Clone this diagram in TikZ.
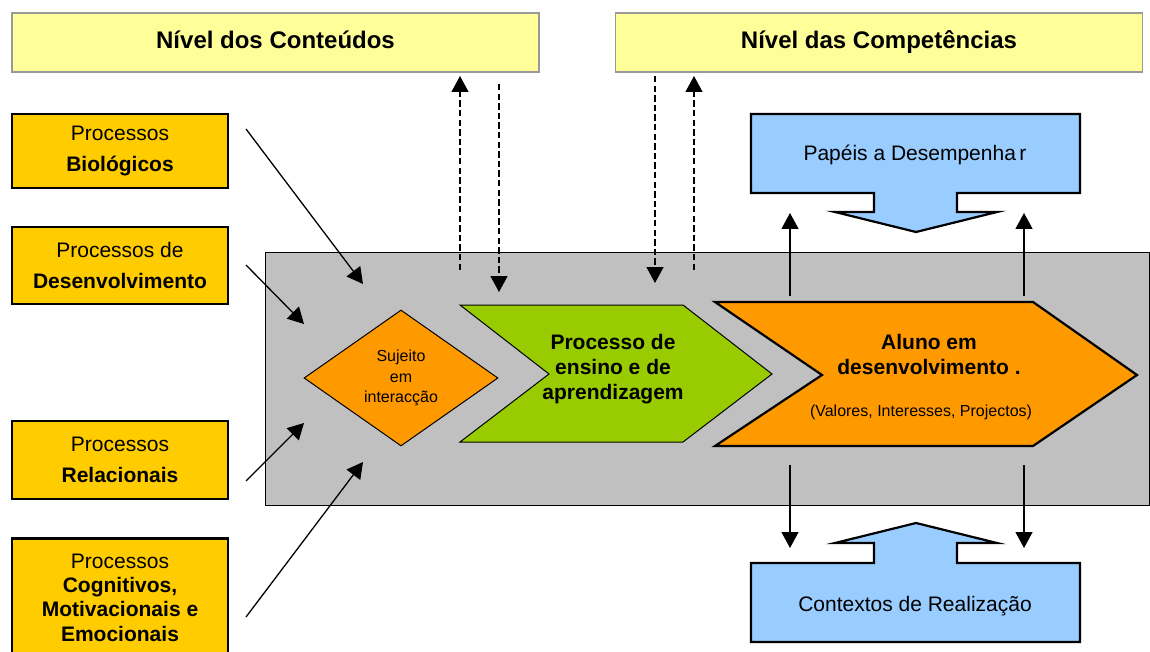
\documentclass[tikz,border=0pt]{standalone}
\usepackage{fontspec}
\setmainfont{Liberation Sans}
\usepackage{tikz}
\usetikzlibrary{arrows.meta,shapes.geometric}
\definecolor{nivelyellow}{RGB}{255,255,153}
\definecolor{procyellow}{RGB}{255,204,0}
\definecolor{fundogray}{RGB}{192,192,192}
\definecolor{alunoorange}{RGB}{255,153,0}
\definecolor{ensinogreen}{RGB}{153,204,0}
\definecolor{papelblue}{RGB}{153,204,255}

\begin{document}
\begin{tikzpicture}[x=0.5pt,y=-0.5pt,
  nivel/.style={draw=gray!80,line width=0.8pt,fill=nivelyellow,minimum width=263.5pt,minimum height=29.5pt,
    text height=9pt,text depth=2.5pt,font=\fontsize{12}{14}\selectfont\bfseries},
  processo/.style={draw,line width=1.2pt,fill=procyellow,minimum width=108pt,align=center,font=\fontsize{10.5}{15.5}\selectfont},
  seta/.style={-{Triangle[length=8pt,width=8.5pt]},line width=0.65pt},
  tracejada/.style={seta,dash pattern=on 3.2pt off 1.6pt},
  papel/.style={draw,line width=1.1pt,fill=papelblue,line join=miter}
]
  \clip (0,0) rectangle (1150,652);

  % Niveis
  \node[nivel] (conteudos) at (275.5,42.5) {Nível dos Conteúdos};
  \node[nivel] (competencias) at (879,42.5) {Nível das Competências};

  % Processos
  \node[processo,minimum height=37pt] (biologicos) at (120,151) {Processos\\\textbf{Biológicos}};
  \node[processo,minimum height=38.5pt] (desenvolvimento) at (120,265.5) {Processos de\\\textbf{Desenvolvimento}};
  \node[processo,minimum height=39pt] (relacionais) at (120,460) {Processos\\\textbf{Relacionais}};
  \node[processo,minimum height=59pt,font=\fontsize{10.5}{12.2}\selectfont] (cognitivos) at (120,597.5)
    {Processos\\\textbf{Cognitivos,}\\\textbf{Motivacionais e}\\\textbf{Emocionais}};

  % Fundo
  \draw[fill=fundogray,line width=0.5pt] (265,252) rectangle (1149,505);

  % Sujeito
  \node[diamond,draw,line width=0.5pt,fill=alunoorange,minimum width=97pt,minimum height=68pt,inner sep=0pt,
    align=center,font=\fontsize{8}{10.3}\selectfont] (sujeito) at (401,378) {Sujeito\\em\\interacção};

  % Processo de ensino
  \draw[fill=ensinogreen,line width=0.5pt] (460,305) -- (683,305) -- (772,374) -- (683,442) -- (460,442) -- (549,374) -- cycle;
  \node[align=center,font=\fontsize{10.5}{12.5}\selectfont\bfseries] (ensino) at (613,369) {Processo de\\ensino e de\\aprendizagem};

  % Aluno
  \draw[fill=alunoorange,line width=1.1pt] (715,302) -- (1033,302) -- (1137,375) -- (1033,446) -- (715,446) -- (822,375) -- cycle;
  \node[align=center,font=\fontsize{10.5}{12.5}\selectfont\bfseries] (aluno) at (929,354) {Aluno em\\desenvolvimento .};
  \node[font=\fontsize{8}{10}\selectfont] (valores) at (921,412) {(Valores, Interesses, Projectos)};

  % Papeis e contextos
  \draw[papel] (751,114) -- (1080,114) -- (1080,193) -- (957,193) -- (957,212) -- (997,212) -- (916,232)
    -- (835,212) -- (874,212) -- (874,193) -- (751,193) -- cycle;
  \node[font=\fontsize{10.5}{12}\selectfont] (papeis) at (915,155) {Papéis a Desempenha\,r};
  \draw[papel] (751,642) -- (1080,642) -- (1080,563) -- (957,563) -- (957,543) -- (997,543) -- (916,523)
    -- (835,543) -- (874,543) -- (874,563) -- (751,563) -- cycle;
  \node[font=\fontsize{10.5}{12}\selectfont] (contextos) at (915,606) {Contextos de Realização};

  % Pontas das setas
  \coordinate (b1) at (246,129);  \coordinate (b2) at (363,284);
  \coordinate (d1) at (246,265);  \coordinate (d2) at (304,324);
  \coordinate (r1) at (246,481);  \coordinate (r2) at (304,423);
  \coordinate (c1) at (246,617);  \coordinate (c2) at (363,462);
  \draw[seta] (b1) -- (b2);
  \draw[seta] (d1) -- (d2);
  \draw[seta] (r1) -- (r2);
  \draw[seta] (c1) -- (c2);

  % Setas tracejadas
  \coordinate (t1) at (460,270); \coordinate (t2) at (499,84);
  \coordinate (t3) at (655,76);  \coordinate (t4) at (694,270);
  \draw[tracejada] (t1) -- (t1 |- 0,76);
  \draw[tracejada] (t2) -- (t2 |- 0,292);
  \draw[tracejada] (t3) -- (t3 |- 0,283);
  \draw[tracejada] (t4) -- (t4 |- 0,76);

  % Setas do aluno
  \coordinate (a1) at (790,296); \coordinate (a2) at (1024,296);
  \coordinate (a3) at (790,465); \coordinate (a4) at (1024,465);
  \draw[seta] (a1) -- (a1 |- 0,213);
  \draw[seta] (a2) -- (a2 |- 0,213);
  \draw[seta] (a3) -- (a3 |- 0,548);
  \draw[seta] (a4) -- (a4 |- 0,548);
\end{tikzpicture}
\end{document}
